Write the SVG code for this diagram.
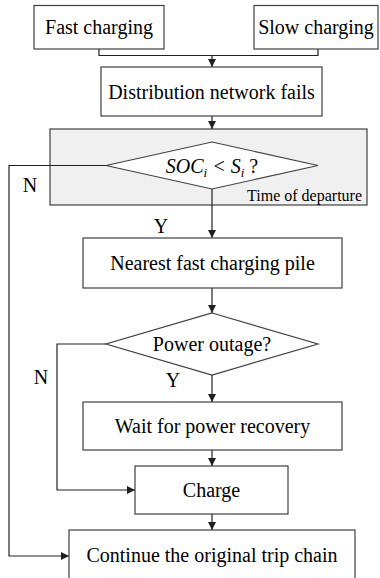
<svg xmlns="http://www.w3.org/2000/svg" width="380" height="578" viewBox="0 0 380 578">
  <style>
    .box { fill: #ffffff; stroke: #404040; stroke-width: 1.2; }
    .panel { fill: #f0f0f0; stroke: #404040; stroke-width: 1.2; }
    .lbl { font-family: "Liberation Serif", "Times New Roman", serif; font-size: 20px; fill: #000; text-anchor: middle; }
    .small { font-family: "Liberation Serif", "Times New Roman", serif; font-size: 16px; fill: #000; text-anchor: end; }
    .wire { fill: none; stroke: #202020; stroke-width: 1.2; }
  </style>
  <defs>
    <marker id="arrow" viewBox="0 0 8 8" refX="8" refY="4" markerWidth="8" markerHeight="8" markerUnits="userSpaceOnUse" orient="auto">
      <path d="M0,0 L8,4 L0,8 Z" fill="#202020"/>
    </marker>
  </defs>

  <rect width="380" height="578" fill="#ffffff"/>

  <!-- shaded departure-time panel -->
  <g id="departure-panel">
    <rect class="panel" x="50" y="129" width="317" height="76"/>
    <text class="small" x="362" y="201">Time of departure</text>
  </g>

  <g id="connectors">
    <!-- merge of the two charging modes -->
    <path class="wire" d="M99,49 V55.5 H318 V49"/>
    <path class="wire" d="M212,55.5 V67" marker-end="url(#arrow)"/>
    <path class="wire" d="M212,116 V129" marker-end="url(#arrow)"/>
    <!-- SOC check: yes -->
    <path class="wire" d="M212,189 V238" marker-end="url(#arrow)"/>
    <!-- SOC check: no -->
    <path class="wire" d="M106,165.5 H9 V556 H69" marker-end="url(#arrow)"/>
    <path class="wire" d="M212,288 V313" marker-end="url(#arrow)"/>
    <!-- outage check: yes -->
    <path class="wire" d="M212,375 V402" marker-end="url(#arrow)"/>
    <!-- outage check: no -->
    <path class="wire" d="M106,344 H57 V490 H135" marker-end="url(#arrow)"/>
    <path class="wire" d="M212,450 V466" marker-end="url(#arrow)"/>
    <path class="wire" d="M212,514 V530" marker-end="url(#arrow)"/>
  </g>

  <g id="fast-charging">
    <rect class="box" x="34" y="5.5" width="130" height="43.5"/>
    <text class="lbl" x="99" y="34">Fast charging</text>
  </g>

  <g id="slow-charging">
    <rect class="box" x="254" y="5.5" width="124" height="43.5"/>
    <text class="lbl" x="316" y="34">Slow charging</text>
  </g>

  <g id="network-fails">
    <rect class="box" x="101" y="67" width="221" height="49"/>
    <text class="lbl" x="211.5" y="99">Distribution network fails</text>
  </g>

  <g id="soc-check">
    <polygon class="box" points="212,142 318,165.5 212,189 106,165.5"/>
    <text class="lbl" x="212" y="172.5" font-style="italic">SOC<tspan font-size="13" dy="4">i</tspan><tspan dy="-4"> &lt; S</tspan><tspan font-size="13" dy="4">i</tspan><tspan dy="-4" font-style="normal"> ?</tspan></text>
    <text class="lbl" x="30" y="192">N</text>
    <text class="lbl" x="161" y="233">Y</text>
  </g>

  <g id="nearest-pile">
    <rect class="box" x="83" y="238" width="259" height="50"/>
    <text class="lbl" x="212.5" y="270">Nearest fast charging pile</text>
  </g>

  <g id="outage-check">
    <polygon class="box" points="212,313 318,344 212,375 106,344"/>
    <text class="lbl" x="212" y="351">Power outage?</text>
    <text class="lbl" x="41" y="384">N</text>
    <text class="lbl" x="173" y="387">Y</text>
  </g>

  <g id="wait-recovery">
    <rect class="box" x="83" y="402" width="259" height="48"/>
    <text class="lbl" x="212.5" y="433">Wait for power recovery</text>
  </g>

  <g id="charge">
    <rect class="box" x="135" y="466" width="153" height="48"/>
    <text class="lbl" x="211.5" y="497">Charge</text>
  </g>

  <g id="continue-trip">
    <rect class="box" x="69" y="530" width="286" height="60"/>
    <text class="lbl" x="212" y="562">Continue the original trip chain</text>
  </g>
</svg>
